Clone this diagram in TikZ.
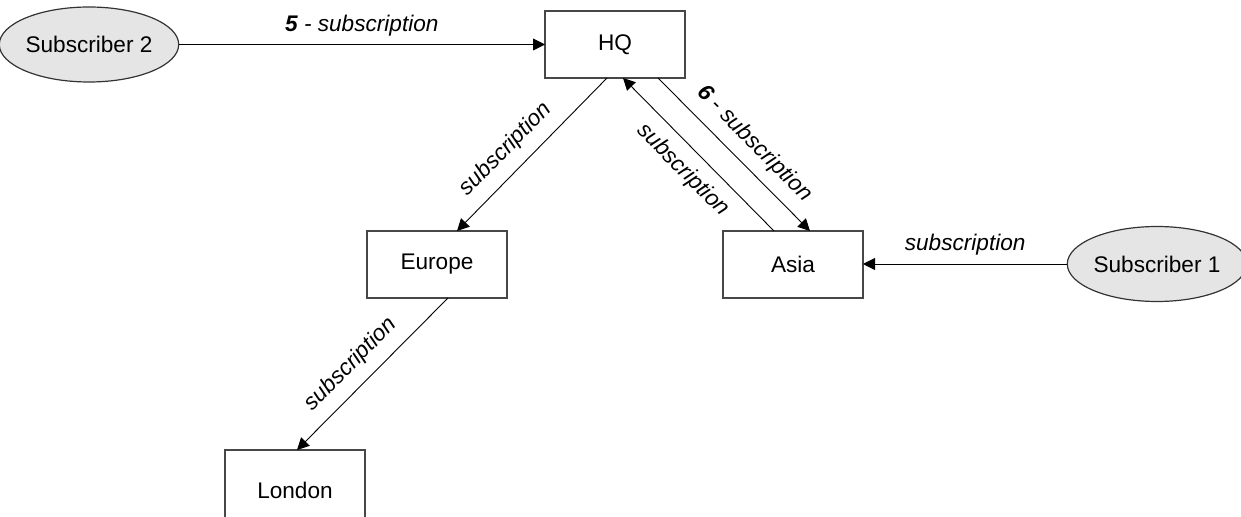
\documentclass[tikz,border=0pt]{standalone}
\usepackage{fontspec}
\setmainfont{Liberation Sans}
\usetikzlibrary{arrows.meta,shapes.geometric}
\begin{document}
\begin{tikzpicture}[x=0.5pt,y=-0.5pt,
  every node/.style={font=\fontsize{11.3pt}{13pt}\selectfont},
  site/.style={draw=black!72, line width=0.7pt, minimum width=70pt,
    minimum height=33.5pt, inner sep=0pt, outer sep=0pt},
  client/.style={ellipse, draw=black!80, fill=black!10, line width=0.6pt,
    minimum width=81pt, minimum height=37.5pt, inner sep=0pt, outer sep=0pt},
  flow/.style={-{Triangle[length=6pt,width=6pt]}, line width=0.45pt, black},
  lbl/.style={font=\fontsize{11.3pt}{13pt}\selectfont\itshape, inner sep=4pt},
  slbl/.style={lbl, sloped, inner sep=5.5pt}
]
\useasboundingbox (0,0) rectangle (1241,517);

% queue managers
\node[site] (hq) at (615,44.5) {HQ};
\node[site] (eu) at (437,264.5) {Europe};
\node[site] (as) at (793,264.5) {Asia};
\node[site, minimum height=40pt] (lon) at (295,490) {London};

% subscribers
\node[client] (s2) at (89,44.5) {Subscriber 2};
\node[client] (s1) at (1157,264) {Subscriber 1};

% subscription flows
\draw[flow] (s2.east) -- (s2.east -| hq.west)
  node[lbl, midway, above] {{\bfseries 5} - subscription};
\draw[flow] ([xshift=-4pt]hq.south) -- ([xshift=10pt]eu.north)
  node[slbl, pos=0.57, above] {subscription};
\draw[flow] ([xshift=-9.5pt]as.north) -- ([xshift=4pt]hq.south)
  node[slbl, pos=0.5, below] {subscription};
\draw[flow] ([xshift=21.5pt]hq.south) -- ([xshift=8.5pt]as.north)
  node[slbl, pos=0.53, above] {{\bfseries 6} - subscription};
\draw[flow] ([xshift=5.5pt]eu.south) -- ([xshift=1pt]lon.north)
  node[slbl, pos=0.54, above] {subscription};
\draw[flow] (s1.west) -- (s1.west -| as.east)
  node[lbl, midway, above] {subscription};
\end{tikzpicture}
\end{document}
